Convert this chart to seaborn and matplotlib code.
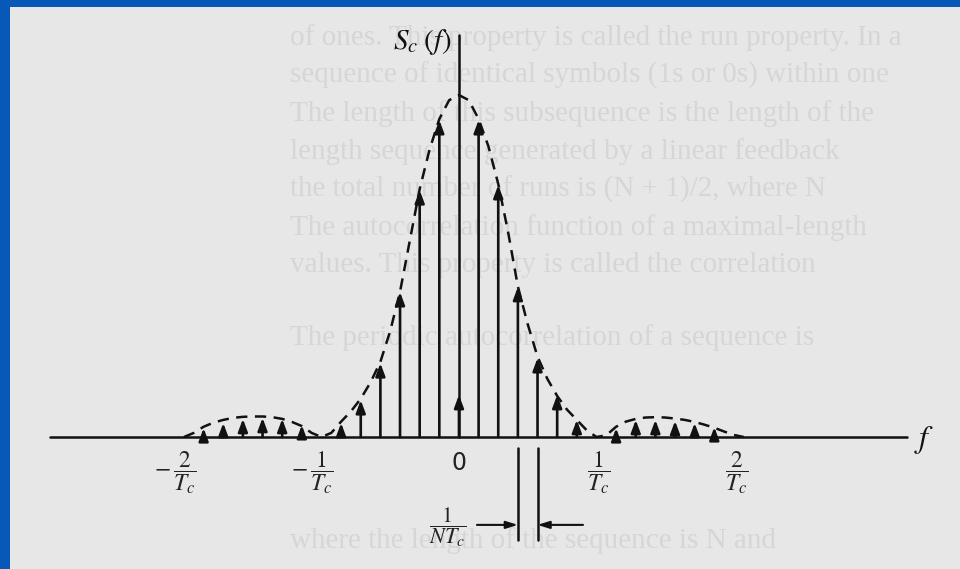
import numpy as np
import pandas as pd
import seaborn as sns
import matplotlib.pyplot as plt
from matplotlib.patches import Rectangle

# period of the PN sequence, lines every 1/(N Tc)
N = 7

# spectral lines: index k (f = k/(N Tc)) and height (peak of envelope = 1)
line_k = [-13, -12, -11, -10, -9, -8, -6, -5, -4, -3, -2, -1, 0,
          1, 2, 3, 4, 5, 6, 8, 9, 10, 11, 12, 13]
line_h = [0.026, 0.041, 0.053, 0.056, 0.053, 0.035, 0.041, 0.108, 0.216, 0.424, 0.722, 0.927, 0.123,
          0.927, 0.737, 0.439, 0.231, 0.123, 0.050, 0.026, 0.050, 0.050, 0.047, 0.041, 0.029]

# dashed envelope
env_k = [-14, -13.5, -13, -12.5, -12, -11.5, -11, -10.5, -10, -9.5, -9, -8.5, -8, -7.5, -7,
         -6.5, -6, -5.5, -5, -4.5, -4, -3.5, -3, -2.5, -2, -1.5, -1, -0.5, 0,
         0.5, 1, 1.5, 2, 2.5, 3, 3.5, 4, 4.5, 5, 5.5, 6, 6.5, 7,
         7.5, 8, 8.5, 9, 9.5, 10, 10.5, 11, 11.5, 12, 12.5, 13, 13.5, 14, 14.5]
env_h = [0.0, 0.012, 0.030, 0.042, 0.050, 0.056, 0.059, 0.060, 0.060, 0.058, 0.053, 0.044, 0.032, 0.012, 0.0,
         0.012, 0.045, 0.075, 0.112, 0.160, 0.220, 0.310, 0.425, 0.575, 0.725, 0.840, 0.930, 0.985, 1.0,
         0.985, 0.930, 0.850, 0.740, 0.600, 0.440, 0.330, 0.235, 0.170, 0.120, 0.080, 0.050, 0.020, 0.0,
         0.005, 0.030, 0.045, 0.053, 0.057, 0.058, 0.057, 0.054, 0.050, 0.044, 0.036, 0.027, 0.016, 0.006, 0.0]

tick_pos = [-2, -1, 0, 1, 2]
tick_lab = [r"$-\,\dfrac{2}{T_c}$", r"$-\,\dfrac{1}{T_c}$", "0", r"$\dfrac{1}{T_c}$", r"$\dfrac{2}{T_c}$"]

# faint text of the book page behind the figure
page_text = [
    "of ones. This property is called the run property. In a",
    "sequence of identical symbols (1s or 0s) within one",
    "The length of this subsequence is the length of the",
    "length sequence generated by a linear feedback",
    "the total number of runs is (N + 1)/2, where N",
    "The autocorrelation function of a maximal-length",
    "values. This property is called the correlation",
    "The periodic autocorrelation of a sequence is",
    "where the length of the sequence is N and",
]
page_y = [45, 83, 121, 159, 197, 235, 272, 345, 548]

sns.set_style("white")
plt.rcParams['font.family'] = ['DejaVu Sans']
plt.rcParams['mathtext.fontset'] = 'stix'

fig = plt.figure(figsize=(9.6, 5.69), dpi=100)
fig.patch.set_facecolor('#0758b8')
fig.patches.append(Rectangle((10 / 960, 0), 950 / 960, 562 / 569, transform=fig.transFigure,
                             facecolor='#e7e7e7', edgecolor='none', zorder=-5))

ax = fig.add_axes([0, 0, 1, 1])
ax.set_zorder(2)
ax.set_facecolor('none')
ax.axis('off')
ax.set_xlim(-3.338, 3.644)
ax.set_ylim(-0.386, 1.278)

for t, yy in zip(page_text, page_y):
    ax.text(290 / 960, 1 - yy / 569, t, transform=ax.transAxes, fontsize=21,
            family='Liberation Serif', color='#d6d6d6', va='baseline', zorder=0)

# axes of the drawing
ax.plot([-2.975, 3.258], [0, 0], color='#111111', lw=1.8, zorder=3)
ax.plot([0, 0], [0, 1.175], color='#111111', lw=1.8, zorder=3)

# envelope
env = pd.DataFrame({'f': np.array(env_k) / N, 'S': env_h})
sns.lineplot(data=env, x='f', y='S', ax=ax, color='#111111', lw=1.8, linestyle=(0, (4.5, 3)), zorder=4)

# spectral lines with arrow heads
for k, h in zip(line_k, line_h):
    ax.annotate('', xy=(k / N, h), xytext=(k / N, 0),
                arrowprops=dict(arrowstyle='-|>,head_length=0.75,head_width=0.28',
                                color='#111111', lw=1.9, shrinkA=0, shrinkB=0), zorder=5)

# tick labels
for p, lab in zip(tick_pos, tick_lab):
    if p == 0:
        ax.text(p, -0.076, lab, ha='center', va='center', fontsize=17, color='#222222')
    elif p < 0:
        ax.text(p + 0.09, -0.105, lab, ha='right', va='center', fontsize=17, color='#222222')
    else:
        ax.text(p + 0.02, -0.105, lab, ha='center', va='center', fontsize=17, color='#222222')

ax.text(-0.48, 1.155, r"$S_c\;(f)$", ha='left', va='center', fontsize=21, color='#111111')
ax.text(3.38, -0.01, r"$f$", ha='center', va='center', fontsize=23, color='#111111')

# 1/(N Tc) spacing marker
ax.plot([3 / N, 3 / N], [-0.032, -0.30], color='#111111', lw=1.8)
ax.plot([4 / N, 4 / N], [-0.032, -0.30], color='#111111', lw=1.8)
ax.annotate('', xy=(3 / N, -0.257), xytext=(0.131, -0.257),
            arrowprops=dict(arrowstyle='-|>,head_length=0.7,head_width=0.22', color='#111111', lw=1.5,
                            shrinkA=0, shrinkB=0))
ax.annotate('', xy=(4 / N, -0.257), xytext=(0.902, -0.257),
            arrowprops=dict(arrowstyle='-|>,head_length=0.7,head_width=0.22', color='#111111', lw=1.5,
                            shrinkA=0, shrinkB=0))
ax.text(-0.08, -0.263, r"$\dfrac{1}{NT_c}$", ha='center', va='center', fontsize=16, color='#222222')

fig.savefig('out.png', dpi=100, facecolor=fig.get_facecolor())
